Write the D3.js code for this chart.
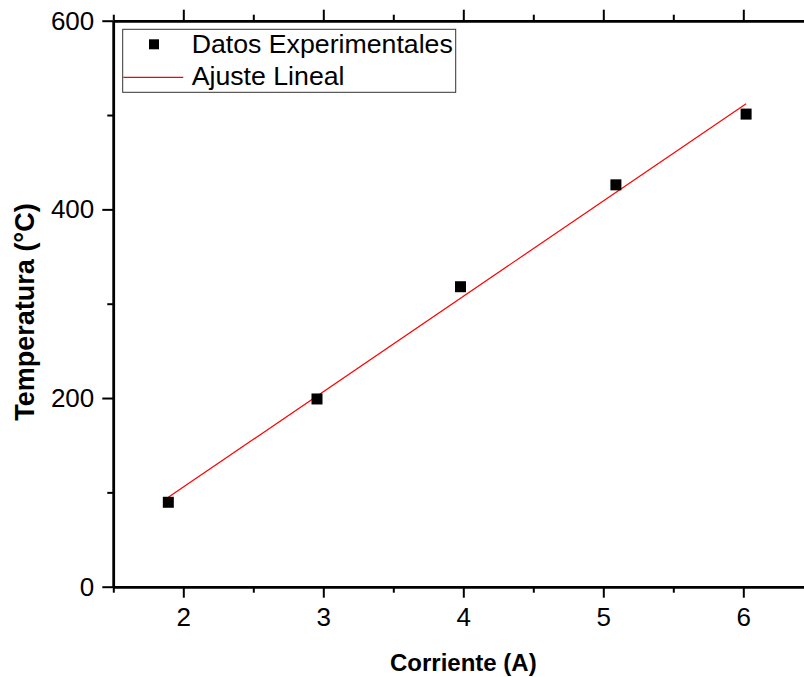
<!DOCTYPE html>
<html>
<head>
<meta charset="utf-8">
<script src="https://cdn.jsdelivr.net/npm/d3@7"></script>
<style>
  body { margin: 0; background: #fff; }
  text { font-family: "Liberation Sans", Arial, sans-serif; }
</style>
</head>
<body>
<svg id="chart"></svg>
<script>
// datos
const corriente = [1.893, 2.955, 3.98, 5.09, 6.02];
const temperatura = [89.5, 199, 318, 426, 501];
// extremos del ajuste lineal
const ajusteX = [1.893, 6.02];
const ajusteY = [94.8, 512];
const xTicks = [2, 3, 4, 5, 6];
const xMinor = [1.5, 2.5, 3.5, 4.5, 5.5, 6.5];
const yTicks = [0, 200, 400, 600];
const yMinor = [100, 300, 500];
const legendLabels = ['Datos Experimentales', 'Ajuste Lineal'];

const width = 804, height = 677;
const margins = { top: 20.7, bottom: 90.3, left: 113.3, right: -9.3 };

const svg = d3.select('#chart').attr('width', width).attr('height', height);

const x = d3.scaleLinear().domain([1.5, 6.5])
            .range([margins.left, width - margins.right]);
const y = d3.scaleLinear().domain([0, 600])
            .range([height - margins.bottom, margins.top]);

const x0 = x(1.5), x1 = x(6.5), y0 = y(0), y1 = y(600);

// fit line
const line = d3.line().x(d => x(d[0])).y(d => y(d[1]));
svg.append('path')
   .datum(d3.zip(ajusteX, ajusteY))
   .attr('fill', 'none')
   .attr('stroke', '#ff0000')
   .attr('stroke-width', 1.2)
   .attr('d', line);

// points
svg.selectAll('.pt')
   .data(d3.zip(corriente, temperatura))
   .enter().append('rect')
   .attr('class', 'pt')
   .attr('x', d => x(d[0]) - 5.5)
   .attr('y', d => y(d[1]) - 5.5)
   .attr('width', 11)
   .attr('height', 11)
   .attr('fill', '#000');

// axes
function styleAxis(g) {
  g.select('.domain').attr('stroke', '#000').attr('stroke-width', 2.5);
  g.selectAll('.tick line').attr('stroke', '#000').attr('stroke-width', 2);
  g.selectAll('.tick text').attr('font-size', 26).attr('fill', '#000');
}

// bottom
svg.append('g').attr('transform', `translate(0,${y0})`)
   .call(d3.axisBottom(x).tickValues(xMinor).tickSize(6).tickSizeOuter(0).tickFormat(''))
   .call(styleAxis);
svg.append('g').attr('transform', `translate(0,${y0})`)
   .call(d3.axisBottom(x).tickValues(xTicks).tickSize(11).tickSizeOuter(0).tickPadding(10).tickFormat(d3.format('d')))
   .call(styleAxis);
// top
svg.append('g').attr('transform', `translate(0,${y1})`)
   .call(d3.axisTop(x).tickValues(xMinor).tickSize(6).tickSizeOuter(0).tickFormat(''))
   .call(styleAxis);
svg.append('g').attr('transform', `translate(0,${y1})`)
   .call(d3.axisTop(x).tickValues(xTicks).tickSize(11).tickSizeOuter(0).tickFormat(''))
   .call(styleAxis);
// left
svg.append('g').attr('transform', `translate(${x0},0)`)
   .call(d3.axisLeft(y).tickValues(yMinor).tickSize(6).tickSizeOuter(0).tickFormat(''))
   .call(styleAxis);
svg.append('g').attr('transform', `translate(${x0},0)`)
   .call(d3.axisLeft(y).tickValues(yTicks).tickSize(11).tickSizeOuter(0).tickPadding(8).tickFormat(d3.format('d')))
   .call(styleAxis);
// right (fuera de la ventana)
svg.append('g').attr('transform', `translate(${x1},0)`)
   .call(d3.axisRight(y).tickValues(yTicks).tickSize(11).tickSizeOuter(0).tickFormat(''))
   .call(styleAxis);

// axis titles
svg.append('text')
   .attr('x', x(4)).attr('y', 671)
   .attr('text-anchor', 'middle')
   .attr('font-size', 24).attr('font-weight', 'bold')
   .text('Corriente (A)');
svg.append('text')
   .attr('transform', `translate(34,312) rotate(-90)`)
   .attr('text-anchor', 'middle')
   .attr('font-size', 27).attr('font-weight', 'bold')
   .text('Temperatura (°C)');

// legend
const lg = svg.append('g');
lg.append('rect')
  .attr('x', 122.7).attr('y', 29.3)
  .attr('width', 333).attr('height', 63)
  .attr('fill', 'none').attr('stroke', '#333').attr('stroke-width', 1);
lg.append('rect')
  .attr('x', 149).attr('y', 39.3).attr('width', 10).attr('height', 10).attr('fill', '#000');
lg.append('line')
  .attr('x1', 123.3).attr('x2', 183.3).attr('y1', 77.3).attr('y2', 77.3)
  .attr('stroke', '#ff0000').attr('stroke-width', 1.2);
lg.selectAll('.lgtext')
  .data(legendLabels)
  .enter().append('text')
  .attr('class', 'lgtext')
  .attr('x', 191.7)
  .attr('y', (d, i) => 53 + i * 32)
  .attr('font-size', 26.7)
  .text(d => d);
</script>
</body>
</html>
